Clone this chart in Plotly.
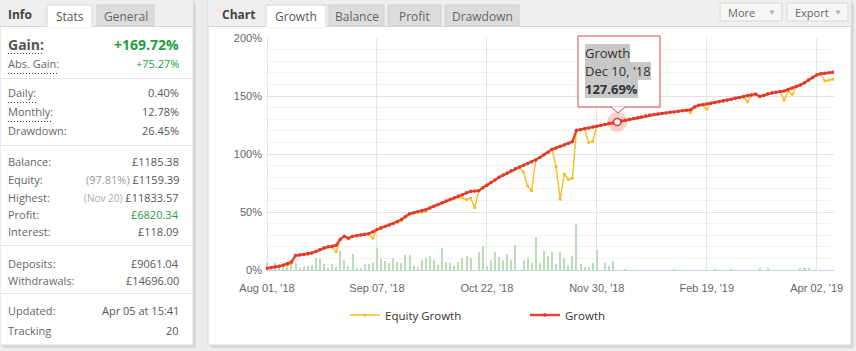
import plotly.graph_objects as go

# ---------------- data ----------------
tick_idx = [0, 27, 54, 81, 108, 135]
tick_text = ["Aug 01, '18", "Sep 07, '18", "Oct 22, '18", "Nov 30, '18", "Feb 19, '19", "Apr 02, '19"]

growth = [
    1.5, 2.0, 2.6, 3.3, 4.2, 5.3, 7.0, 12.5, 13.0, 13.4,
    14.0, 14.6, 16.0, 17.4, 19.2, 20.0, 20.5, 21.3, 26.5, 29.0,
    27.4, 29.0, 29.6, 30.2, 30.8, 31.4, 33.0, 35.0, 36.3, 37.6,
    38.8, 40.0, 41.8, 43.5, 46.0, 48.5, 49.3, 50.2, 51.0, 52.0,
    53.5, 55.0, 56.5, 58.0, 59.5, 61.0, 62.3, 63.8, 64.8, 66.5,
    67.8, 68.0, 68.3, 71.0, 73.0, 75.5, 77.5, 80.0, 81.8, 83.6,
    85.5, 87.3, 88.8, 90.3, 91.8, 93.3, 94.8, 97.0, 99.3, 101.6,
    104.0, 105.2, 106.5, 107.8, 109.0, 110.6, 120.5, 121.0, 121.8, 122.5,
    123.3, 124.0, 124.8, 125.5, 126.3, 127.0, 127.69, 128.4, 129.2, 129.9,
    130.6, 131.3, 132.0, 132.8, 133.6, 134.0, 134.5, 135.0, 135.4, 135.9,
    136.3, 136.8, 137.2, 137.7, 138.2, 140.5, 142.0, 142.5, 143.2, 143.8,
    144.4, 145.0, 145.6, 146.3, 147.0, 148.0, 148.7, 149.4, 150.2, 150.9,
    151.7, 149.6, 150.5, 152.0, 152.8, 153.3, 153.8, 154.3, 155.6, 156.9,
    158.2, 159.5, 161.5, 163.8, 166.0, 168.2, 169.2, 169.6, 170.0, 170.4,
]

equity = [
    1.5, 2.0, 2.6, 3.3, 3.8, 4.2, 5.8, 12.5, 13.0, 13.4,
    14.0, 14.6, 16.0, 17.4, 19.2, 20.0, 19.5, 15.8, 26.5, 29.0,
    27.4, 29.0, 29.6, 30.2, 30.8, 30.6, 27.3, 35.0, 36.3, 37.6,
    38.8, 40.0, 41.0, 42.5, 46.0, 48.5, 49.3, 50.2, 49.8, 50.5,
    53.5, 55.0, 56.5, 58.0, 59.5, 61.0, 61.8, 62.8, 62.0, 60.8,
    62.0, 53.7, 68.3, 71.0, 73.0, 75.5, 77.5, 80.0, 81.8, 83.6,
    85.5, 87.3, 88.8, 84.5, 72.5, 68.4, 94.8, 97.0, 99.3, 101.6,
    104.0, 89.0, 61.0, 82.8, 78.0, 79.0, 120.5, 121.0, 121.8, 109.8,
    111.0, 124.0, 124.8, 125.5, 126.3, 127.0, 127.69, 128.4, 129.2, 129.9,
    130.6, 131.3, 132.0, 132.8, 133.6, 134.0, 134.5, 135.0, 135.4, 135.9,
    136.3, 136.8, 137.2, 137.7, 135.6, 140.5, 142.0, 142.5, 138.5, 143.8,
    144.4, 145.0, 145.6, 146.3, 147.0, 148.0, 148.7, 149.4, 145.0, 150.9,
    151.7, 149.6, 150.5, 152.0, 152.8, 153.3, 153.8, 146.6, 153.8, 151.5,
    158.2, 159.5, 161.5, 163.8, 166.0, 168.2, 169.2, 163.0, 163.6, 164.4,
]

bars = [
    7.2, 0.0, 6.3, 3.4, 3.4, 4.3, 5.8, 6.3, 1.5, 3.4,
    3.4, 4.3, 10.1, 9.2, 5.2, 1.5, 5.2, 2.3, 16.4, 8.6,
    3.4, 13.8, 1.5, 1.5, 5.2, 5.2, 6.3, 19.2, 9.2, 8.0,
    6.3, 10.1, 7.2, 6.3, 12.9, 12.9, 3.4, 2.3, 8.6, 10.1,
    12.1, 8.6, 4.3, 19.2, 7.2, 5.8, 3.4, 7.2, 10.1, 12.1,
    10.1, 0.0, 15.8, 20.7, 3.4, 8.6, 15.8, 10.9, 8.6, 13.8,
    8.6, 21.6, 0.0, 8.6, 10.1, 5.8, 28.7, 5.8, 16.4, 12.1,
    15.3, 4.9, 15.3, 10.1, 3.4, 12.1, 39.7, 4.9, 2.3, 2.3,
    6.3, 17.2, 0.0, 5.8, 3.4, 7.8, 0.0, 0.0, 0.6, 0.0,
    0.0, 0.0, 0.0, 0.0, 0.0, 0.0, 0.0, 0.0, 0.0, 0.0,
    0.5, 0.0, 0.0, 0.0, 0.0, 0.0, 0.0, 0.0, 0.0, 0.0,
    0.5, 0.0, 0.0, 0.0, 0.5, 0.0, 0.0, 0.0, 0.0, 0.0,
    0.0, 1.5, 0.0, 1.5, 0.0, 0.0, 0.0, 0.0, 0.0, 0.0,
    0.0, 1.5, 1.5, 1.5, 0.0, 0.0, 0.0, 0.0, 0.0, 0.0,
]
idx = list(range(len(growth)))
hover_i = 86
hover_date = "Dec 10, '18"

stat_rows = [
    ("Daily:", "0.40%"),
    ("Monthly:", "12.78%"),
    ("Drawdown:", "26.45%"),
    ("Balance:", "£1185.38"),
    ("Equity:", "<span style='color:#999'>(97.81%)</span> £1159.39"),
    ("Highest:", "<span style='color:#aaa;font-size:10px'>(Nov 20)</span> £11833.57"),
    ("Profit:", "<span style='color:#22a040'>£6820.34</span>"),
    ("Interest:", "£118.09"),
    ("Deposits:", "£9061.04"),
    ("Withdrawals:", "£14696.00"),
    ("Updated:", "Apr 05 at 15:41"),
    ("Tracking", "20"),
]
stat_y = [92, 111, 131, 161, 179, 197, 214, 232, 263, 280, 310, 330]

# ---------------- helpers ----------------
W, H = 856, 351
UI = "Open Sans, Noto Sans, sans-serif"
AX = "Liberation Sans, Arial, sans-serif"


def px(x):
    return x / W


def py(y):
    return 1 - y / H


shapes = []
ann = []


def rect(x0, y0, x1, y1, fill, line=None, lw=1, layer="below"):
    shapes.append(dict(type="rect", xref="paper", yref="paper",
                       x0=px(x0), x1=px(x1), y0=py(y1), y1=py(y0),
                       fillcolor=fill,
                       line=dict(color=line if line else "rgba(0,0,0,0)", width=lw if line else 0),
                       layer=layer))


def line(x0, y0, x1, y1, color, lw=1, dash="solid", layer="below"):
    shapes.append(dict(type="line", xref="paper", yref="paper",
                       x0=px(x0), x1=px(x1), y0=py(y0), y1=py(y1),
                       line=dict(color=color, width=lw, dash=dash), layer=layer))


def text(x, y, s, size=11, color="#666", anchor="left", family=UI, bg=None):
    d = dict(xref="paper", yref="paper", x=px(x), y=py(y), text=s, showarrow=False,
             xanchor=anchor, yanchor="middle",
             font=dict(size=size, color=color, family=family), borderpad=0, borderwidth=0)
    if bg:
        d["bgcolor"] = bg
    ann.append(d)


DOT = "1px,2px"

# ---------------- left panel ----------------
rect(3, 3, 196, 348, "#d9d9d9")
rect(0, 0, 193, 345, "#ffffff", "#d6d6d6")
rect(0.5, 0.5, 192.5, 26, "#efefef")
line(0, 26.5, 193, 26.5, "#d6d6d6")
rect(47, 5, 92, 27, "#ffffff", "#d6d6d6")
line(47.5, 26.5, 91.5, 26.5, "#ffffff", lw=2)
rect(97, 5, 154, 26, "#dcdcdc", "#d0d0d0")
text(8, 14, "<b>Info</b>", size=12, color="#444")
text(69.5, 16, "Stats", size=12, color="#555", anchor="center")
text(125.5, 16, "General", size=12, color="#666", anchor="center")

text(8, 45, "<b>Gain:</b>", size=14, color="#555")
text(179, 45, "<b>+169.72%</b>", size=14, color="#22a040", anchor="right")
line(8, 53.5, 43, 53.5, "#444", dash=DOT)
text(8, 64, "Abs. Gain:", size=11, color="#666")
text(179, 64, "+75.27%", size=11, color="#22a040", anchor="right")
line(8, 73.5, 58, 73.5, "#444", dash=DOT)
line(8, 102.5, 36, 102.5, "#444", dash=DOT)
line(8, 121.5, 51, 121.5, "#444", dash=DOT)
for sy in (78.5, 145.5, 245.5, 293.5):
    line(0.5, sy, 192.5, sy, "#e6e6e6")
for (lab, val), yy in zip(stat_rows, stat_y):
    text(8, yy, lab, size=11, color="#666")
    text(179, yy, val, size=11, color="#555", anchor="right")

# ---------------- right panel ----------------
rect(211, 3, 854, 348, "#d9d9d9")
rect(208, 0, 851, 345, "#ffffff", "#d6d6d6")
rect(208.5, 0.5, 850.5, 26, "#efefef")
line(208, 26.5, 851, 26.5, "#d6d6d6")
text(222, 14, "<b>Chart</b>", size=12, color="#444")
rect(266, 5, 326, 27, "#ffffff", "#d6d6d6")
line(266.5, 26.5, 325.5, 26.5, "#ffffff", lw=2)
text(296, 16, "Growth", size=12, color="#555", anchor="center")
for (a, b, lab) in ((329, 384, "Balance"), (388, 441, "Profit"), (445, 519, "Drawdown")):
    rect(a, 5, b, 26, "#dcdcdc", "#d0d0d0")
    text((a + b) / 2, 16, lab, size=12, color="#666", anchor="center")
for (a, b, lab) in ((720, 782, "More"), (787, 848, "Export")):
    rect(a, 3, b, 21, "#f6f6f6", "#d8d8d8")
    text(a + 8, 12.5, lab, size=11, color="#666")
    text(b - 10, 12, "▼", size=8, color="#b0b0b0", anchor="center")

# tooltip box
TIP = "#d8474f"
rect(578, 36, 660, 107, "#ffffff", TIP, layer="above")
shapes.append(dict(type="path", xref="paper", yref="paper",
                   path=f"M {px(611)} {py(106.6)} L {px(618)} {py(113)} L {px(625)} {py(106.6)} Z",
                   fillcolor="#ffffff", line=dict(width=0), layer="above"))
shapes.append(dict(type="path", xref="paper", yref="paper",
                   path=f"M {px(611)} {py(107)} L {px(618)} {py(113)} L {px(625)} {py(107)}",
                   line=dict(color=TIP, width=1), layer="above"))
text(585, 53, "Growth", size=13, color="#333", bg="#c8c8c8")
text(585, 71, hover_date, size=13, color="#333", bg="#c8c8c8")
text(585, 89, f"<b>{growth[hover_i]:.2f}%</b>", size=13, color="#333", bg="#c8c8c8")

# ---------------- traces ----------------
fig = go.Figure()
fig.add_trace(go.Bar(x=idx, y=bars, marker=dict(color="#b9ddb5", line=dict(width=0)),
                     width=0.5, showlegend=False, hoverinfo="skip"))
fig.add_trace(go.Scatter(x=idx, y=equity, mode="lines+markers", name="Equity Growth",
                         line=dict(color="#f5bd1f", width=1.4),
                         marker=dict(size=3, color="#f5bd1f")))
fig.add_trace(go.Scatter(x=idx, y=growth, mode="lines+markers", name="Growth",
                         line=dict(color="#e8432f", width=2.4),
                         marker=dict(size=3.5, color="#e03a2a")))
fig.add_trace(go.Scatter(x=[hover_i], y=[growth[hover_i]], mode="markers", showlegend=False,
                         hoverinfo="skip", marker=dict(size=20, color="rgba(232,67,47,0.25)")))
fig.add_trace(go.Scatter(x=[hover_i], y=[growth[hover_i]], mode="markers", showlegend=False,
                         hoverinfo="skip",
                         marker=dict(size=7, color="#ffffff", line=dict(color="#e03a2a", width=1.5))))

fig.update_layout(
    width=W, height=H, autosize=False,
    margin=dict(l=0, r=0, t=0, b=0, pad=0, autoexpand=False),
    paper_bgcolor="#ececec", plot_bgcolor="rgba(0,0,0,0)",
    shapes=shapes, annotations=ann, bargap=0,
    font=dict(family=UI),
    legend=dict(orientation="h", x=px(345), y=py(315), xanchor="left", yanchor="middle",
                font=dict(size=11.5, color="#333", family=UI), bgcolor="rgba(0,0,0,0)",
                entrywidth=135, entrywidthmode="pixels", itemwidth=30),
    xaxis=dict(domain=[px(266), px(834)], range=[-0.25, 139.25], automargin=False,
               tickvals=tick_idx, ticktext=tick_text, ticks="",
               showgrid=True, gridcolor="#e4e4e4", zeroline=False,
               showline=True, linecolor="#c6d3e2", linewidth=1,
               tickfont=dict(size=11, color="#666", family=AX), ticklabelstandoff=8,
               fixedrange=True),
    yaxis=dict(domain=[py(270), py(38)], range=[0, 200], automargin=False,
               tickvals=[0, 50, 100, 150, 200], ticktext=["0%", "50%", "100%", "150%", "200%"],
               ticks="", showgrid=True, gridcolor="#e2e2e2", zeroline=False,
               minor=dict(dtick=10, showgrid=True, gridcolor="#f3f3f3", ticks=""),
               tickfont=dict(size=11, color="#666", family=AX), ticklabelstandoff=3,
               fixedrange=True),
)
fig.write_html("out.html")
